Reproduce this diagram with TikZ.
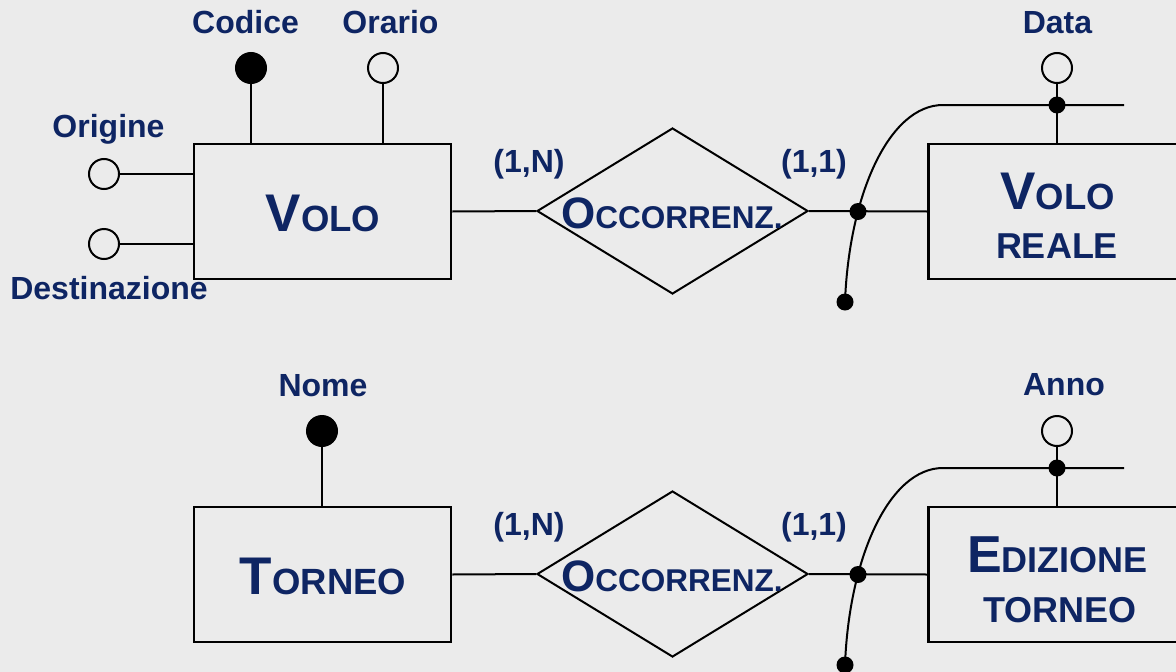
\documentclass[tikz,border=0pt]{standalone}
\usepackage{fontspec}
\setmainfont{Liberation Sans}
\usetikzlibrary{shapes.geometric}
\definecolor{navy}{RGB}{14,37,99}
\definecolor{bg}{RGB}{235,235,235}
\newcommand{\fs}[1]{\fontsize{#1}{#1}\selectfont}
\begin{document}
\begin{tikzpicture}[x=1pt,y=-1pt,
 line width=2pt,
 txt/.style={text=navy,font=\bfseries\fs{32},anchor=base,inner sep=0},
 entity/.style={draw,line width=2.5pt,minimum width=257,minimum height=135,inner sep=0},
 rel/.style={draw,diamond,minimum width=271,minimum height=166,inner sep=0},
 keyattr/.style={circle,draw,fill=black,minimum size=30,inner sep=0},
 attr/.style={circle,draw,fill=bg,minimum size=30,inner sep=0},
 dot/.style={circle,fill=black,minimum size=17,inner sep=0}]
\fill[bg] (0,0) rectangle (1176,672);
\useasboundingbox (0,0) rectangle (1176,672);
\clip (0,0) rectangle (1176,672);

% ---------- top diagram ----------
\node[entity] (volo) at (322.5,211.5) {};
\node[rel] (occ1) at (672.5,211) {};
\node[entity] (vr) at (1057,211.5) {};
\node[keyattr] (codice) at (251,68) {};
\node[attr] (orario) at (383,68) {};
\node[attr] (origine) at (104,174) {};
\node[attr] (dest) at (104,244) {};
\node[attr] (data) at (1057,68) {};
\coordinate (t1) at (943,105);
\coordinate (e1) at (1124,105);

\draw (codice) -- (codice |- volo.north);
\draw (orario) -- (orario |- volo.north);
\draw (origine) -- (origine -| volo.west);
\draw (dest) -- (dest -| volo.west);
\draw (volo.east) -- (occ1.west);
\draw (occ1.east) -- (vr.west);
\draw (data) -- (data |- vr.north);
\node[dot] (b1) at (845,302) {};
\draw (b1.center) .. controls (849,195) and (889,105) .. (t1) -- (e1);
\node[dot] (j1) at (858,211.5) {};
\node[dot] (d1) at (1057,105) {};

\node[txt] (lcod) at (245.5,33) {Codice};
\node[txt] (lora) at (390.5,33) {Orario};
\node[txt] (lori) at (108.5,137) {Origine};
\node[txt] (ldest) at (109,299) {Destinazione};
\node[txt] (c1n) at (529,172) {(1,N)};
\node[txt] (c11) at (814,172) {(1,1)};
\node[txt] (volotxt) at (323,231) {{\fs{53}V}{\fs{36.5}OLO}};
\node[txt] (locc1) at (672,228) {{\fs{44}O}{\fs{31.5}CCORRENZ.}};
\node[txt] (ldata) at (1057.5,33) {Data};
\node[txt] (vr1) at (1057.5,209) {{\fs{53}V}{\fs{36.5}OLO}};
\node[txt] (vr2) at (1057,258) {\fs{36}REALE};

% ---------- bottom diagram ----------
\node[entity] (torneo) at (322.5,574.5) {};
\node[rel] (occ2) at (672.5,574) {};
\node[entity] (ed) at (1057,574.5) {};
\node[keyattr] (nome) at (322,431) {};
\node[attr] (anno) at (1057,431) {};
\coordinate (t2) at (943,468);
\coordinate (e2) at (1124,468);

\draw (nome) -- (nome |- torneo.north);
\draw (torneo.east) -- (occ2.west);
\draw (occ2.east) -- (ed.west);
\draw (anno) -- (anno |- ed.north);
\node[dot] (b2) at (845,665) {};
\draw (b2.center) .. controls (849,558) and (889,468) .. (t2) -- (e2);
\node[dot] (j2) at (858,574.5) {};
\node[dot] (d2) at (1057,468) {};

\node[txt] (lnome) at (323,396) {Nome};
\node[txt] (c2n) at (529,535) {(1,N)};
\node[txt] (c21) at (814,535) {(1,1)};
\node[txt] (torneotxt) at (323,594) {{\fs{53}T}{\fs{36.5}ORNEO}};
\node[txt] (locc2) at (672,591) {{\fs{44}O}{\fs{31.5}CCORRENZ.}};
\node[txt] (lanno) at (1064,395) {Anno};
\node[txt] (ed1) at (1057.5,572) {{\fs{52}E}{\fs{36}DIZIONE}};
\node[txt] (ed2) at (1060,622) {\fs{36}TORNEO};
\end{tikzpicture}
\end{document}
